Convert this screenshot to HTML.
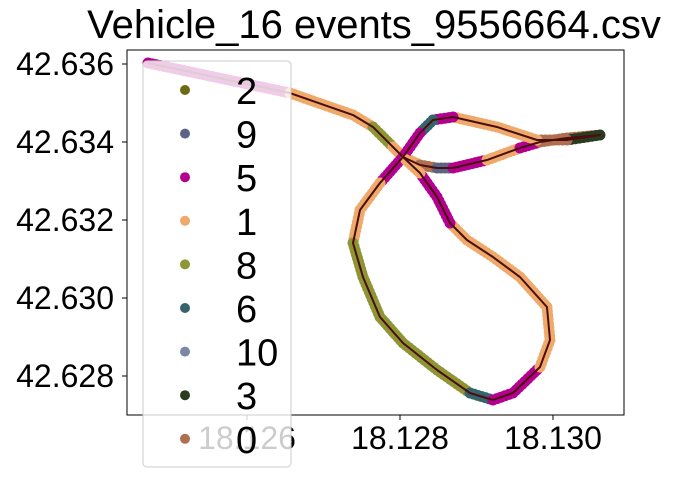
<!DOCTYPE html>
<html><head><meta charset="utf-8"><style>
body{margin:0;background:#fff;}
svg{display:block;font-family:"Liberation Sans","DejaVu Sans",sans-serif;}
</style></head><body>
<svg id="chart" width="677" height="479" viewBox="0 0 677 479"></svg>
<script>
// waypoints (lon, lat) and category of the segment starting at each waypoint
const lons=[18.124706,18.126562,18.127386,18.127647,18.127908,18.128039,18.128261,18.128484,18.128693,18.129137,18.129568,18.129830,18.130183,18.130614,18.130183,18.129791,18.129268,18.128693,18.128431,18.128261,18.128039,18.127738,18.127477,18.127386,18.127516,18.127738,18.128039,18.128484,18.128915,18.129215,18.129477,18.129830,18.129961,18.129921,18.129568,18.129215,18.128875,18.128653,18.128484,18.128261,18.128039];
const lats=[42.636026,42.635256,42.634692,42.634385,42.633872,42.633615,42.633410,42.633333,42.633333,42.633538,42.633846,42.634000,42.634103,42.634179,42.634051,42.634051,42.634385,42.634641,42.634564,42.634231,42.633615,42.632949,42.632256,42.631410,42.630538,42.629513,42.628846,42.628154,42.627564,42.627385,42.627564,42.628231,42.628923,42.629769,42.630538,42.631051,42.631487,42.631923,42.632590,42.633205,42.633615];
const cats=["5","1","1","8","1","1","0","9","5","1","5","0","0","3","0","1","1","5","6","5","5","1","1","8","8","8","8","8","6","5","5","1","1","1","1","1","1","5","5","1","1"];
const legendLabels=["2","9","5","1","8","6","10","3","0"];
const legendColors=["#6e6a14","#5c6385","#b3008f","#efa96a","#8e9535","#35646b","#7b88a3","#2a3b20","#b06f4f"];
const xTicks=[18.126,18.128,18.130];
const yTicks=[42.628,42.630,42.632,42.634,42.636];
const NS="http://www.w3.org/2000/svg";
const svg=document.getElementById('chart');
const L=127,R=624,T=50,B=415;
const xs=v=>247+(v-18.126)/0.002*153;
const ys=v=>376-(v-42.628)/0.002*78;
function mk(tag,attrs,parent){const e=document.createElementNS(NS,tag);for(const k in attrs)e.setAttribute(k,attrs[k]);(parent||svg).appendChild(e);return e;}
const colorOf=c=>legendColors[legendLabels.indexOf(c)];
const gDots=mk('g',{});


for(let i=0;i<lons.length-1;i++){
  const x0=xs(lons[i]),y0=ys(lats[i]),x1=xs(lons[i+1]),y1=ys(lats[i+1]);
  const d=Math.hypot(x1-x0,y1-y0),n=Math.max(1,Math.round(d/4));
  for(let k=0;k<n;k++){const t=k/n;
    const c=mk('circle',{cx:x0+(x1-x0)*t,cy:y0+(y1-y0)*t,r:5.5,fill:colorOf(cats[i])},gDots);
    
    }
}
const line=mk('polyline',{points:lons.map((v,i)=>xs(v)+','+ys(lats[i])).join(' '),fill:'none',stroke:'#4a0e0e','stroke-width':2,'stroke-linejoin':'round'});


const frame=mk('rect',{x:L,y:T,width:R-L,height:B-T,fill:'none',stroke:'#000','stroke-width':1});


xTicks.forEach(v=>{const x=xs(v);
  mk('line',{x1:x,x2:x,y1:B,y2:B+5,stroke:'#000'});
  const t=mk('text',{x:x,y:B+34,'font-size':32,'text-anchor':'middle'});t.textContent=v.toFixed(3);
  
  });
yTicks.forEach(v=>{const y=ys(v);
  mk('line',{x1:L-5,x2:L,y1:y,y2:y,stroke:'#000'});
  const t=mk('text',{x:L-13,y:y+11,'font-size':32,'text-anchor':'end'});t.textContent=v.toFixed(3);
  
  });
const title=mk('text',{x:374,y:38,'font-size':40,'text-anchor':'middle'});
title.textContent='Vehicle_16 events_9556664.csv';


const lg=mk('g',{});


mk('rect',{x:143,y:61,width:148,height:406,rx:4,fill:'#fff','fill-opacity':0.8,stroke:'#ccc'},lg);
legendLabels.forEach((lab,i)=>{const y=90+i*43.6;
  const c=mk('circle',{cx:185,cy:y,r:5,fill:legendColors[i]},lg);
  
  
  const t=mk('text',{x:236,y:y+14,'font-size':38},lg);t.textContent=lab;
  
  });
</script>
</body></html>
